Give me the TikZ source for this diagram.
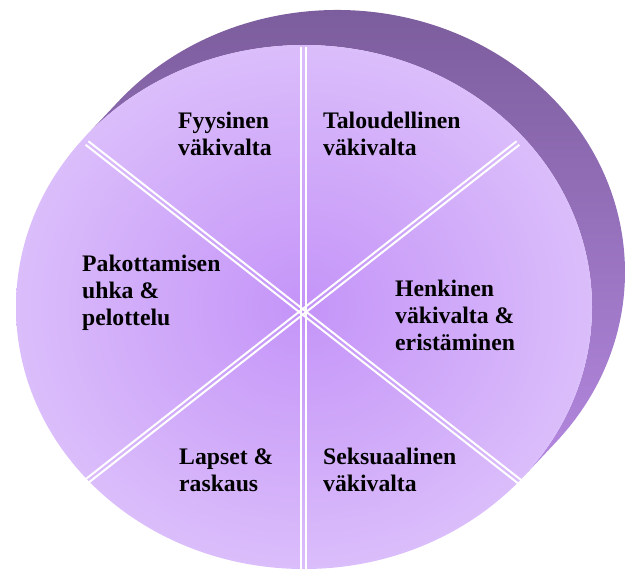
\documentclass[tikz,border=0pt]{standalone}
\usepackage{fontspec}
\setmainfont{Liberation Serif}
\usetikzlibrary{calc}
\definecolor{fcin}{RGB}{196,148,248}
\definecolor{fcout}{RGB}{228,206,252}
\definecolor{sidetop}{RGB}{120,90,152}
\definecolor{sidebot}{RGB}{180,136,224}
\pgfdeclareradialshading{frontshade}{\pgfpoint{0bp}{0bp}}{color(0bp)=(fcin); color(35.36bp)=(fcout); color(50bp)=(fcout)}
\begin{document}
\begin{tikzpicture}[x=1pt,y=-1pt,
  seglabel/.style={font=\fontsize{23.7}{27}\selectfont\bfseries, align=left, anchor=base west, inner sep=0pt},
  wline/.style={white, line width=2pt}]
\useasboundingbox (0,0) rectangle (632,570);
\coordinate (F) at (304,307);
\coordinate (P1) at (522.6,477.6);
\coordinate (P2) at (85.4,136.4);
\coordinate (Q1) at (555.6,442.6);
\coordinate (Q2) at (118.4,101.4);
% side of the disc
\path[top color=sidetop, bottom color=sidebot]
  (Q2) arc[start angle=220.62, end angle=400.62, x radius=288, y radius=262]
  -- (P1) arc[start angle=40.62, end angle=-139.38, x radius=288, y radius=262] -- cycle;
% front face
\path[shading=frontshade] (F) ellipse[x radius=288, y radius=262];
% dividing double lines
\coordinate (vt) at (303.25,47);
\coordinate (vb) at (303.25,572);
\coordinate (d1a) at (87,143);
\coordinate (d1b) at (520,482);
\coordinate (d2a) at (518,143);
\coordinate (d2b) at (87,481);
\foreach \a/\b in {vt/vb,d1a/d1b,d2a/d2b}{
  \draw[wline] ($(\a)!2.25pt!90:(\b)$) -- ($(\b)!2.25pt!-90:(\a)$);
  \draw[wline] ($(\a)!2.25pt!-90:(\b)$) -- ($(\b)!2.25pt!90:(\a)$);
}
% labels (anchored at the baseline of the last line)
\node[seglabel] (fy) at (178,155) {Fyysinen\\väkivalta};
\node[seglabel] (ta) at (323,155) {Taloudellinen\\väkivalta};
\node[seglabel] (pa) at (82,325) {Pakottamisen\\uhka \&\\pelottelu};
\node[seglabel] (he) at (395,350) {Henkinen\\väkivalta \&\\eristäminen};
\node[seglabel] (la) at (179,491) {Lapset \&\\raskaus};
\node[seglabel] (se) at (323,491) {Seksuaalinen\\väkivalta};
\end{tikzpicture}
\end{document}
